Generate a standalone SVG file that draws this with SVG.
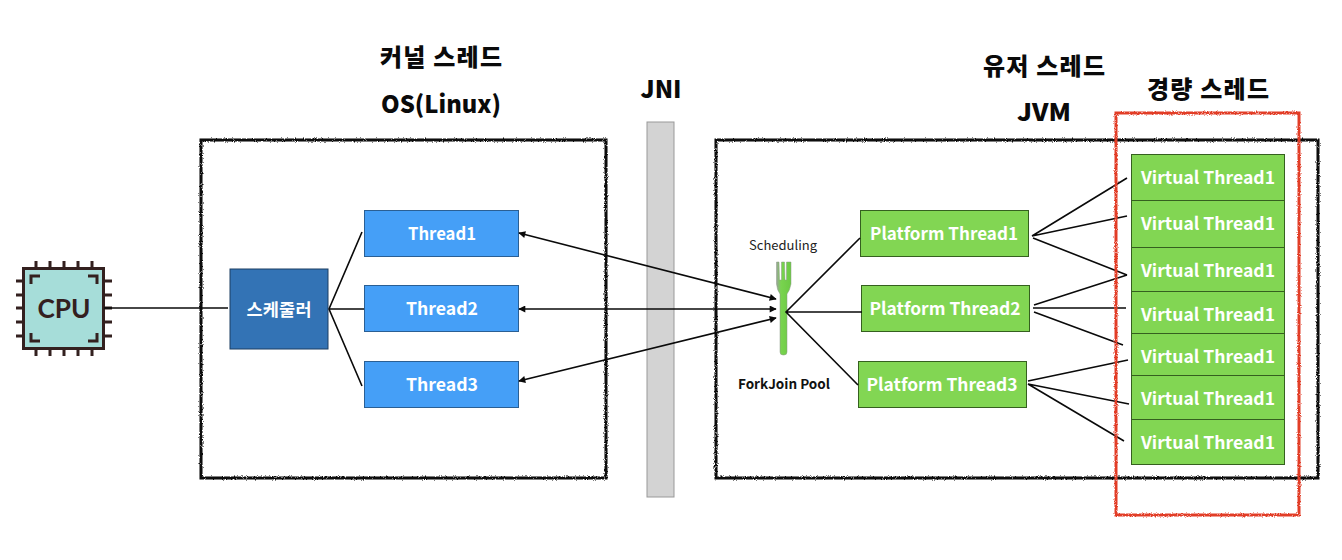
<svg xmlns="http://www.w3.org/2000/svg" width="1342" height="560" viewBox="0 0 1342 560">
<style>
text{font-family:"Noto Sans CJK KR","Noto Sans",sans-serif;text-anchor:middle}
.title{font-size:24px;font-weight:900;fill:#0a0a0a}
.lab{font-size:17.5px;font-weight:700;fill:#fff}
.blue{fill:#459ff7;stroke:#2a5f94;stroke-width:1}
.green{fill:#82d653;stroke:#35601f;stroke-width:1}
.line{stroke:#0a0a0a;stroke-width:1.6;fill:none}
.arrow{stroke:#0a0a0a;stroke-width:1.6;fill:none;marker-start:url(#ah);marker-end:url(#ah)}
.rough{fill:none;filter:url(#rough)}
.pin{stroke:#33201f;stroke-width:3;fill:none}
</style>
<defs>
<marker id="ah" viewBox="0 0 10 10" refX="9" refY="5" markerWidth="8" markerHeight="7" markerUnits="userSpaceOnUse" orient="auto-start-reverse"><path d="M0 0L10 5L0 10Z" fill="#0a0a0a"/></marker>
<filter id="rough" x="-5%" y="-5%" width="110%" height="110%"><feTurbulence type="fractalNoise" baseFrequency="0.9" numOctaves="2" seed="3"/><feDisplacementMap in="SourceGraphic" scale="3"/></filter>
<linearGradient id="fk" x1="0" x2="1" y1="0" y2="0"><stop offset="0" stop-color="#9aa39a"/><stop offset="0.3" stop-color="#79d44f"/><stop offset="1" stop-color="#6cc944"/></linearGradient>
</defs>
<rect width="1342" height="560" fill="#fff"/>
<g id="kernel-box"><rect class="rough" x="201" y="140" width="405" height="338" stroke="#0a0a0a" stroke-width="3"/></g>
<g id="jvm-box"><rect class="rough" x="716" y="140" width="602" height="338" stroke="#0a0a0a" stroke-width="3"/></g>
<g id="jni"><rect x="647" y="122" width="27" height="375" fill="#d3d3d3" stroke="#999" stroke-width="1"/><text class="title" x="661" y="98" textLength="41" lengthAdjust="spacingAndGlyphs">JNI</text></g>
<g id="cpu">
<rect x="23.500" y="268.500" width="80" height="80" fill="#a6ddd9" stroke="#33201f" stroke-width="3"/>
<path class="pin" d="M36 261V268M50 261V268M64 261V268M78 261V268M92 261V268M36 349V356M50 349V356M64 349V356M78 349V356M92 349V356M16 281H23M16 295H23M16 308H23M16 322H23M16 336H23M104 281H112M104 295H112M104 308H112M104 322H112M104 336H112"/>
<path class="pin" d="M31 284V276H40M97 284V276H88M31 333V341H40M97 333V341H88"/>
<text x="64" y="318" textLength="53" lengthAdjust="spacingAndGlyphs" style="font-family:Lato,sans-serif;font-weight:700;font-size:27px;fill:#33201f">CPU</text>
</g>
<g id="scheduler"><rect x="230" y="269" width="98" height="80" fill="#3373b5" stroke="#1c3f63"/><text class="lab" x="279" y="316" textLength="65">스케줄러</text></g>
<g id="thread1"><rect class="blue" x="364.500" y="210.500" width="154" height="46"/><text class="lab" x="442" y="240" textLength="68" lengthAdjust="spacingAndGlyphs">Thread1</text></g>
<g id="thread2"><rect class="blue" x="364.500" y="285.500" width="154" height="46"/><text class="lab" x="442" y="315" textLength="72" lengthAdjust="spacingAndGlyphs">Thread2</text></g>
<g id="thread3"><rect class="blue" x="364.500" y="361.500" width="154" height="46"/><text class="lab" x="442" y="391" textLength="72" lengthAdjust="spacingAndGlyphs">Thread3</text></g>
<g id="platform1"><rect class="green" x="860.500" y="210.500" width="168" height="46"/><text class="lab" x="944" y="240" textLength="148" lengthAdjust="spacingAndGlyphs">Platform Thread1</text></g>
<g id="platform2"><rect class="green" x="861.500" y="285.500" width="168" height="46"/><text class="lab" x="945" y="315" textLength="151" lengthAdjust="spacingAndGlyphs">Platform Thread2</text></g>
<g id="platform3"><rect class="green" x="858.500" y="361.500" width="168" height="46"/><text class="lab" x="942" y="391" textLength="151" lengthAdjust="spacingAndGlyphs">Platform Thread3</text></g>
<g id="virtual1"><rect class="green" x="1131.500" y="154.500" width="153" height="46"/><text class="lab" x="1208" y="184" textLength="134" lengthAdjust="spacingAndGlyphs">Virtual Thread1</text></g>
<g id="virtual2"><rect class="green" x="1131.500" y="200.500" width="153" height="47"/><text class="lab" x="1208" y="230" textLength="134" lengthAdjust="spacingAndGlyphs">Virtual Thread1</text></g>
<g id="virtual3"><rect class="green" x="1131.500" y="247.500" width="153" height="44"/><text class="lab" x="1208" y="277" textLength="134" lengthAdjust="spacingAndGlyphs">Virtual Thread1</text></g>
<g id="virtual4"><rect class="green" x="1131.500" y="291.500" width="153" height="42"/><text class="lab" x="1208" y="321" textLength="134" lengthAdjust="spacingAndGlyphs">Virtual Thread1</text></g>
<g id="virtual5"><rect class="green" x="1131.500" y="333.500" width="153" height="42"/><text class="lab" x="1208" y="363" textLength="134" lengthAdjust="spacingAndGlyphs">Virtual Thread1</text></g>
<g id="virtual6"><rect class="green" x="1131.500" y="375.500" width="153" height="44"/><text class="lab" x="1208" y="405" textLength="134" lengthAdjust="spacingAndGlyphs">Virtual Thread1</text></g>
<g id="virtual7"><rect class="green" x="1131.500" y="419.500" width="153" height="45"/><text class="lab" x="1208" y="449" textLength="134" lengthAdjust="spacingAndGlyphs">Virtual Thread1</text></g>
<g id="forkjoin">
<path d="M776.500 262H779L779.500 280H781.500L781.500 262H784.500L785 280H786.500L786.500 262H791L791 284Q790 290 787 294V352Q787 355 784 355H783Q780 355 780 352V294Q777 290 776.500 284Z" fill="url(#fk)" stroke="#8a9a84" stroke-width=".5"/>
<text x="783" y="250" style="font-size:13px;fill:#222">Scheduling</text>
<text x="784" y="389" textLength="92" lengthAdjust="spacingAndGlyphs" style="font-size:13.500px;font-weight:700;fill:#111">ForkJoin Pool</text>
</g>
<g id="connectors">
<path class="line" d="M104 308H228"/>
<path class="line" d="M362 232L329 309L362 386M329 309H364"/>
<path class="arrow" d="M519 233L776 299"/>
<path class="arrow" d="M519 309H776"/>
<path class="arrow" d="M519 381L776 318"/>
<path class="line" d="M860 238L786 312L858 385M786 312H862"/>
<path class="line" d="M1032 236L1127 178M1032 236L1127 216M1033 238L1127 275"/>
<path class="line" d="M1034 305L1127 275M1033 308H1126M1034 312L1123 345"/>
<path class="line" d="M1028 381L1128 360M1028 384L1129 404M1028 384L1124 441"/>
</g>
<g id="lightweight-box"><rect class="rough" x="1116" y="113" width="183" height="402" stroke="#e23d28" stroke-width="3"/></g>
<g id="titles">
<text class="title" x="441" y="66" textLength="122">커널 스레드</text>
<text class="title" x="441" y="113" textLength="120" lengthAdjust="spacingAndGlyphs">OS(Linux)</text>
<text class="title" x="1044" y="75" textLength="122">유저 스레드</text>
<text class="title" x="1044" y="121" textLength="54" lengthAdjust="spacingAndGlyphs">JVM</text>
<text class="title" x="1208" y="98" textLength="122">경량 스레드</text>
</g>
</svg>
